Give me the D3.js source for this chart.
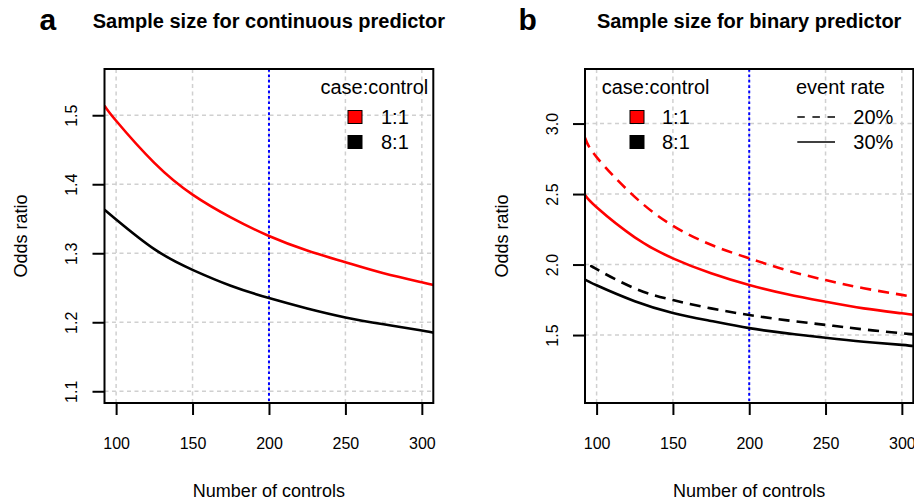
<!DOCTYPE html>
<html><head><meta charset="utf-8">
<script src="https://cdn.jsdelivr.net/npm/d3@7"></script>
<style>
body{margin:0;background:#fff}
svg{display:block}
text{font-family:"Liberation Sans",Arial,Helvetica,sans-serif;fill:#000}
</style>
</head><body>
<svg id="chart" width="914" height="502"></svg>
<script>
// ---- data ----
const controls      = [92.4, 100, 125, 150, 175, 200, 225, 250, 275, 300, 307.5];
const controlsShort = [97.5, 100, 125, 150, 175, 200, 225, 250, 275, 300, 307.5];
const xTicks = [100, 150, 200, 250, 300];
const markerControls = 200;

// panel a: continuous predictor
const contRatio11 = [1.514, 1.492, 1.431, 1.385, 1.352, 1.325, 1.304, 1.287, 1.271, 1.258, 1.254];
const contRatio81 = [1.363, 1.349, 1.306, 1.276, 1.253, 1.235, 1.220, 1.207, 1.197, 1.188, 1.185];
const yTicksA = [1.1, 1.2, 1.3, 1.4, 1.5];

// panel b: binary predictor
const binRatio11Event20 = [2.900, 2.762, 2.480, 2.275, 2.140, 2.044, 1.958, 1.890, 1.832, 1.785, 1.770];
const binRatio11Event30 = [2.493, 2.406, 2.193, 2.044, 1.938, 1.855, 1.789, 1.736, 1.689, 1.654, 1.642];
const binRatio81Event20 = [1.983, 1.967, 1.831, 1.748, 1.689, 1.642, 1.604, 1.572, 1.540, 1.513, 1.505];
const binRatio81Event30 = [1.894, 1.853, 1.740, 1.657, 1.600, 1.549, 1.512, 1.481, 1.453, 1.430, 1.422];
const yTicksB = [1.5, 2.0, 2.5, 3.0];

const ratioLabels = ["1:1", "8:1"];
const ratioColors = ["#ff0000", "#000000"];
const eventLabels = ["20%", "30%"];

// ---- drawing ----
const svg = d3.select("#chart");
const plotTop = 69, plotBottom = 403;
const xDomain = [92.4, 307.5];

const panels = [
  { id: "a", letter: "a", title: "Sample size for continuous predictor",
    left: 104.5, right: 433.3, yDomain: [1.083, 1.567], yTicks: yTicksA,
    series: [
      { x: controls, y: contRatio11, color: ratioColors[0], dash: null },
      { x: controls, y: contRatio81, color: ratioColors[1], dash: null }
    ] },
  { id: "b", letter: "b", title: "Sample size for binary predictor",
    left: 585, right: 913.3, yDomain: [1.018, 3.387], yTicks: yTicksB,
    series: [
      { x: controls, y: binRatio11Event20, color: ratioColors[0], dash: "11,7" },
      { x: controls, y: binRatio11Event30, color: ratioColors[0], dash: null },
      { x: controlsShort, y: binRatio81Event20, color: ratioColors[1], dash: "11,7" },
      { x: controls, y: binRatio81Event30, color: ratioColors[1], dash: null }
    ] }
];

panels.forEach(p => {
  const x = d3.scaleLinear().domain(xDomain).range([p.left, p.right]);
  const y = d3.scaleLinear().domain(p.yDomain).range([plotBottom, plotTop]);
  const g = svg.append("g");
  const cx = (p.left + p.right) / 2;

  g.append("clipPath").attr("id", "clip-" + p.id)
    .append("rect").attr("x", p.left).attr("y", plotTop)
    .attr("width", p.right - p.left).attr("height", plotBottom - plotTop);

  // grid
  const grid = g.append("g").attr("stroke", "#d0d0d0").attr("stroke-width", 1.5)
    .attr("stroke-dasharray", "4,3.5");
  grid.selectAll("line.v").data(xTicks).join("line").attr("class", "v")
    .attr("x1", d => x(d)).attr("x2", d => x(d)).attr("y1", plotTop).attr("y2", plotBottom);
  grid.selectAll("line.h").data(p.yTicks).join("line").attr("class", "h")
    .attr("x1", p.left).attr("x2", p.right).attr("y1", d => y(d)).attr("y2", d => y(d));

  // vertical marker
  g.append("line").attr("x1", x(markerControls)).attr("x2", x(markerControls))
    .attr("y1", plotTop).attr("y2", plotBottom)
    .attr("stroke", "#0000ff").attr("stroke-width", 2).attr("stroke-dasharray", "2.7,2.7");

  // curves
  const line = d3.line().x(d => x(d[0])).y(d => y(d[1])).curve(d3.curveNatural);
  const cg = g.append("g").attr("clip-path", `url(#clip-${p.id})`);
  p.series.forEach(s => {
    cg.append("path").datum(s.x.map((v, i) => [v, s.y[i]]))
      .attr("d", line).attr("fill", "none")
      .attr("stroke", s.color).attr("stroke-width", 2.6)
      .attr("stroke-dasharray", s.dash);
  });

  // box
  g.append("rect").attr("x", p.left).attr("y", plotTop)
    .attr("width", p.right - p.left).attr("height", plotBottom - plotTop)
    .attr("fill", "none").attr("stroke", "#000").attr("stroke-width", 2);

  // x axis
  const xa = g.append("g").attr("transform", `translate(0,${plotBottom})`)
    .call(d3.axisBottom(x).tickValues(xTicks).tickSize(12).tickFormat(d3.format("d")));
  xa.select(".domain").remove();
  xa.selectAll(".tick line").attr("stroke", "#000").attr("stroke-width", 2);
  xa.selectAll(".tick text").attr("y", 45.5).attr("dy", null)
    .attr("font-size", 16).attr("fill", "#000")
    .style("font-family", '"Liberation Sans",Arial,sans-serif');

  // y axis
  const ya = g.append("g").attr("transform", `translate(${p.left},0)`)
    .call(d3.axisLeft(y).tickValues(p.yTicks).tickSize(12).tickFormat(d3.format(".1f")));
  ya.select(".domain").remove();
  ya.selectAll(".tick line").attr("stroke", "#000").attr("stroke-width", 2);
  ya.selectAll(".tick text").attr("x", null).attr("dy", null)
    .attr("transform", "translate(-27.5,0) rotate(-90)")
    .attr("text-anchor", "middle").attr("font-size", 16).attr("fill", "#000")
    .style("font-family", '"Liberation Sans",Arial,sans-serif');

  // titles
  g.append("text").attr("x", cx).attr("y", 27.5).attr("text-anchor", "middle")
    .attr("font-size", 20).attr("font-weight", "bold").text(p.title);
  g.append("text").attr("x", cx).attr("y", 497).attr("text-anchor", "middle")
    .attr("font-size", 18).text("Number of controls");
  g.append("text").attr("transform", `translate(${p.left - 77.5},${(plotTop + plotBottom) / 2}) rotate(-90)`)
    .attr("text-anchor", "middle").attr("font-size", 18).text("Odds ratio");
  g.append("text").attr("x", p.id === "a" ? 39.5 : 518.5).attr("y", 30)
    .attr("font-size", 30).attr("font-weight", "bold").text(p.letter);
});

// legends
const rowY = [117, 142];
function ratioLegend(titleX, anchor, swX, txtX) {
  svg.append("text").attr("x", titleX).attr("y", 94).attr("text-anchor", anchor)
    .attr("font-size", 20).text("case:control");
  ratioLabels.forEach((lab, i) => {
    svg.append("rect").attr("x", swX).attr("y", rowY[i] - 6.5).attr("width", 14).attr("height", 13)
      .attr("fill", ratioColors[i]).attr("stroke", "#000").attr("stroke-width", 1);
    svg.append("text").attr("x", txtX).attr("y", rowY[i] + 7).attr("font-size", 20).text(lab);
  });
}
ratioLegend(428.3, "end", 348, 381);
ratioLegend(601.7, "start", 630, 662);

svg.append("text").attr("x", 796).attr("y", 94).attr("font-size", 20).text("event rate");
eventLabels.forEach((lab, i) => {
  svg.append("line").attr("x1", 797.3).attr("x2", 835).attr("y1", rowY[i]).attr("y2", rowY[i])
    .attr("stroke", "#000").attr("stroke-width", 1.5)
    .attr("stroke-dasharray", i === 0 ? "7.5,7.6" : null);
  svg.append("text").attr("x", 853.3).attr("y", rowY[i] + 7).attr("font-size", 20).text(lab);
});
</script>
</body></html>
